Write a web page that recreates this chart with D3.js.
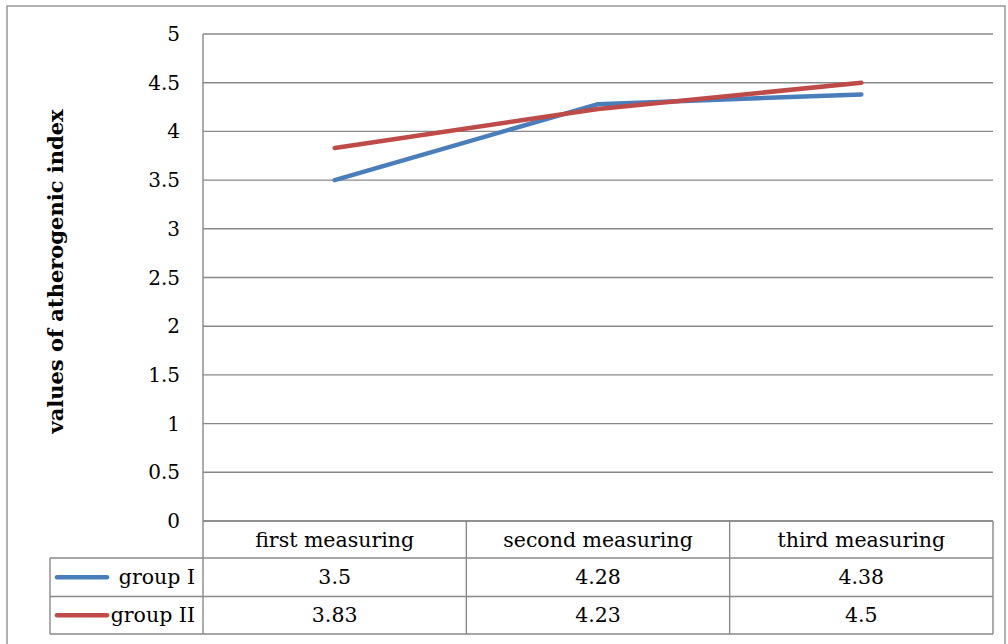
<!DOCTYPE html>
<html><head><meta charset="utf-8">
<script src="https://cdn.jsdelivr.net/npm/d3@7"></script>
<style>body{margin:0;background:#fff}svg text{font-family:"DejaVu Serif","Liberation Serif",serif;fill:#000}</style>
</head><body>
<script>
const categories = ["first measuring", "second measuring", "third measuring"];
const seriesNames = ["group I", "group II"];
const groupI = [3.5, 4.28, 4.38];
const groupII = [3.83, 4.23, 4.5];
const yTicks = [0, 0.5, 1, 1.5, 2, 2.5, 3, 3.5, 4, 4.5, 5];
const colors = ["#4a7ebb", "#be4b48"];
const series = [groupI, groupII];

const W = 1008, H = 644;
const svg = d3.select("body").append("svg").attr("width", W).attr("height", H);
const plot = {l: 203, r: 993, t: 34, b: 521};
const gridC = "#898989";
const fs = 20.5;

svg.append("rect").attr("x", 7).attr("y", 6).attr("width", 998).attr("height", 640)
  .attr("fill", "none").attr("stroke", gridC).attr("stroke-width", 1.3);

const x = d3.scaleBand().domain(categories).range([plot.l, plot.r]);
const y = d3.scaleLinear().domain([0, 5]).range([plot.b, plot.t]);

// gridlines
svg.append("g").selectAll("line").data(yTicks).join("line")
  .attr("x1", plot.l).attr("x2", plot.r).attr("y1", d => y(d)).attr("y2", d => y(d))
  .attr("stroke", gridC).attr("stroke-width", 1.4);
svg.append("line").attr("x1", plot.l).attr("x2", plot.l).attr("y1", plot.t).attr("y2", plot.b)
  .attr("stroke", gridC).attr("stroke-width", 1.4);

// y tick labels
svg.append("g").selectAll("text").data(yTicks).join("text")
  .attr("x", 180).attr("y", d => y(d)).attr("dy", "0.35em").attr("text-anchor", "end")
  .attr("font-size", 20).text(d => d);

// y title
svg.append("text").attr("transform", `translate(63,${271.5}) rotate(-90)`)
  .attr("text-anchor", "middle").attr("font-weight", "bold").attr("font-size", 21)
  .text("values of atherogenic index");

// lines
const line = d3.line().x((d, i) => x(categories[i]) + x.bandwidth() / 2).y(d => y(d));
svg.append("g").selectAll("path").data(series).join("path")
  .attr("d", line).attr("fill", "none").attr("stroke", (d, i) => colors[i])
  .attr("stroke-width", 4.5).attr("stroke-linecap", "round").attr("stroke-linejoin", "round");

// data table
const rows = [521, 558, 596.5, 634];
const tbl = svg.append("g").attr("stroke", gridC).attr("stroke-width", 1.4);
tbl.append("line").attr("x1", plot.l).attr("x2", plot.r).attr("y1", rows[0]).attr("y2", rows[0]);
[1, 2, 3].forEach(i => tbl.append("line").attr("x1", 50).attr("x2", plot.r).attr("y1", rows[i]).attr("y2", rows[i]));
const colEdges = categories.map(c => x(c)).concat([plot.r]);
colEdges.forEach(cx => tbl.append("line").attr("x1", cx).attr("x2", cx).attr("y1", rows[0]).attr("y2", rows[3]));
tbl.append("line").attr("x1", 50).attr("x2", 50).attr("y1", rows[1]).attr("y2", rows[3]);

// header
svg.append("g").selectAll("text").data(categories).join("text")
  .attr("x", d => x(d) + x.bandwidth() / 2).attr("y", (rows[0] + rows[1]) / 2).attr("dy", "0.35em")
  .attr("text-anchor", "middle").attr("font-size", fs).text(d => d);

// value rows
series.forEach((s, si) => {
  const cy = (rows[si + 1] + rows[si + 2]) / 2;
  svg.append("g").selectAll("text").data(s).join("text")
    .attr("x", (d, i) => x(categories[i]) + x.bandwidth() / 2).attr("y", cy).attr("dy", "0.35em")
    .attr("text-anchor", "middle").attr("font-size", fs).text(d => d);
  svg.append("line").attr("x1", 57).attr("x2", 107).attr("y1", cy).attr("y2", cy)
    .attr("stroke", colors[si]).attr("stroke-width", 4.5).attr("stroke-linecap", "round");
  svg.append("text").attr("x", 195).attr("y", cy).attr("dy", "0.35em").attr("text-anchor", "end")
    .attr("font-size", fs).text(seriesNames[si]);
});
</script>
</body></html>
